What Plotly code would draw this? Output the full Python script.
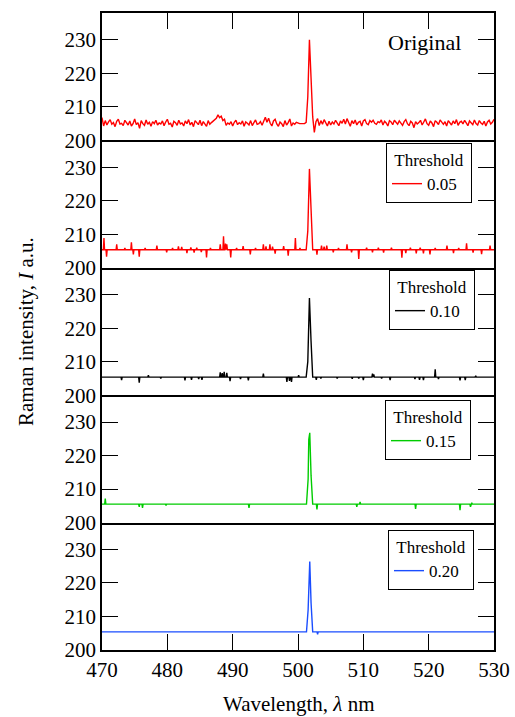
import plotly.graph_objects as go
from plotly.subplots import make_subplots

# ---------------- data ----------------
x_min, x_max = 470.0, 530.0
grid_step = 0.25

# Original spectrum, sampled every 0.25 nm from 470 to 530
original_y = [
    206.8, 204.3, 205.9, 204.6, 205.5, 206.2, 204.8, 205.3, 204.1, 205.7,
    206.3, 204.9, 205.1, 204.4, 206.0, 205.2, 204.6, 205.8, 204.3, 205.0,
    206.4, 204.7, 205.3, 203.6, 205.9, 205.0, 204.5, 206.1, 204.8, 205.4,
    204.2, 205.6, 205.0, 206.0, 204.6, 205.2, 204.9, 205.8, 204.4, 205.5,
    206.3, 204.8, 205.1, 204.0, 205.7, 205.3, 204.5, 206.0, 204.9, 205.2,
    204.3, 205.8, 205.0, 206.2, 204.6, 205.4, 204.1, 205.9, 205.1, 204.7,
    206.0, 204.4, 205.6, 205.0, 204.2, 205.9, 204.8, 205.3, 205.7, 206.1,
    206.6, 207.6, 206.8, 207.2, 205.9, 206.3, 204.5, 205.2, 204.8, 205.6,
    204.3, 205.4, 206.0, 204.7, 205.3, 204.9, 205.8, 204.2, 205.5, 205.1,
    204.6, 205.9, 204.4, 205.3, 206.1, 204.8, 205.0, 205.6, 204.5, 205.7,
    206.9, 205.4, 206.6, 205.1, 204.3, 205.8, 206.3, 204.9, 204.2, 205.5,
    205.0, 204.1, 205.9, 204.6, 205.3, 206.4, 204.3, 205.2, 204.8, 205.4,
    205.1, 205.0, 205.0, 205.0, 205.0, 205.4, 213.0,
    230.0, 220.0, 207.0, 202.4,
    205.6, 206.5, 204.4, 205.9, 204.8, 206.2, 205.0, 204.3, 205.7,
    204.6, 205.5, 204.9, 206.0, 205.2, 204.4, 205.8, 205.1, 206.3, 204.9,
    206.5, 205.3, 204.2, 205.9, 205.0, 206.1, 204.6, 205.4, 205.7, 204.3,
    205.8, 206.2, 205.0, 204.7, 205.9, 205.4, 206.0, 205.1, 204.8, 205.6,
    205.3, 206.1, 204.6, 205.7, 205.2, 204.3, 205.9, 205.5, 204.7, 206.0,
    205.4, 204.8, 205.8, 205.1, 204.5, 205.6, 206.2, 205.0, 204.4, 205.7,
    205.2, 203.8, 205.6, 204.9, 205.3, 206.0, 204.6, 205.5, 206.4, 205.0,
    204.5, 205.8, 205.2, 204.1, 205.9, 205.4, 204.7, 206.1, 205.3, 204.8,
    205.6, 204.3, 205.9, 205.1, 204.6, 205.8, 205.0, 206.2, 204.5, 205.4,
    205.7, 204.9, 206.0, 205.2, 204.4, 205.8, 205.3, 204.7, 206.1, 205.0,
    204.6, 205.9, 205.2, 204.8, 205.7, 204.3, 205.5, 206.0, 204.9, 205.4, 206.3,
]
original_x = [x_min + grid_step * i for i in range(len(original_y))]

# Threshold 0.05
t05_base = 205.4
t05_spike_x = [470.3, 470.7, 472.25, 473.5, 474.5, 474.8, 475.7, 476.6, 478.4, 479.9,
               480.8, 481.7, 482.2, 483.0, 483.6, 484.1, 484.5, 485.2, 486.0, 486.6,
               488.1, 488.6, 488.9, 489.1, 489.7, 490.6, 491.6, 492.7, 493.5, 494.7,
               495.1, 495.7, 496.1, 496.5, 497.8, 498.5, 499.6, 500.3, 502.9, 503.6,
               504.0, 504.4, 505.4, 506.2, 507.5, 508.2, 509.3, 510.5, 511.4, 512.3,
               513.1, 514.3, 515.9, 516.5, 517.2, 518.1, 518.7, 519.2, 520.2, 521.0,
               522.8, 523.8, 524.6, 525.8, 526.8, 528.1, 529.4]
t05_spike_y = [208.9, 203.3, 207.0, 205.9, 207.6, 204.0, 203.3, 205.9, 206.6, 204.6,
               205.9, 206.4, 206.2, 204.4, 206.1, 204.5, 206.0, 204.7, 203.1, 205.9,
               207.0, 209.4, 207.2, 207.0, 203.1, 205.9, 206.5, 204.0, 205.9, 207.0,
               206.4, 207.0, 206.3, 204.2, 206.5, 203.6, 208.9, 205.9, 203.9, 206.6,
               206.3, 206.6, 204.6, 205.9, 207.0, 204.6, 202.6, 206.0, 204.6, 206.0,
               204.5, 206.0, 203.0, 204.4, 206.0, 204.3, 206.0, 204.3, 204.0, 205.9,
               206.6, 204.4, 205.9, 207.3, 204.5, 204.1, 206.6]
t05_peak_x = [501.25, 501.5, 501.75, 502.0, 502.25]
t05_peak_y = [205.4, 211.0, 229.5, 217.0, 205.4]

# Threshold 0.10
t10_base = 205.4
t10_spike_x = [473.0, 475.7, 477.1, 479.0, 482.7, 483.7, 484.8, 485.3, 488.1, 488.4,
               488.7, 489.1, 489.6, 491.2, 492.4, 494.7, 498.3, 498.7, 499.0, 500.1,
               502.8, 503.5, 506.0, 508.3, 509.3, 510.0, 511.4, 511.6, 512.8, 514.1,
               517.9, 518.6, 519.2, 521.0, 521.5, 524.8, 525.6, 527.2]
t10_spike_y = [204.5, 203.7, 206.0, 205.0, 204.4, 204.6, 204.8, 204.6, 206.8, 206.6,
               207.0, 206.7, 204.2, 204.8, 204.4, 206.4, 204.0, 204.3, 204.0, 206.0,
               204.6, 205.0, 205.0, 204.9, 205.0, 204.5, 206.4, 206.2, 205.0, 204.5,
               204.8, 204.6, 204.5, 207.7, 204.8, 204.4, 204.5, 205.8]
t10_peak_x = [501.25, 501.5, 501.75, 502.0, 502.25]
t10_peak_y = [205.4, 210.0, 229.0, 216.0, 205.4]

# Threshold 0.15
t15_base = 205.5
t15_spike_x = [470.5, 475.7, 476.2, 479.8, 492.5, 502.9, 509.0, 509.5, 518.0, 524.8, 526.4, 526.6]
t15_spike_y = [207.2, 204.7, 204.4, 205.1, 204.4, 203.9, 204.7, 206.2, 204.1, 203.7, 204.7, 205.9]
t15_peak_x = [501.3, 501.55, 501.65, 501.8, 502.0, 502.25]
t15_peak_y = [205.5, 213.0, 224.8, 226.8, 214.0, 205.5]

# Threshold 0.20
t20_base = 205.4
t20_spike_x = [503.0]
t20_spike_y = [204.7]
t20_peak_x = [501.3, 501.55, 501.8, 502.0, 502.25]
t20_peak_y = [205.4, 212.0, 226.4, 214.0, 205.4]

thresholds = ["0.05", "0.10", "0.15", "0.20"]
colors = ["#ff0000", "#000000", "#00cc00", "#1a4dff"]

y_ticks = [200, 210, 220, 230]
x_ticks = [470, 480, 490, 500, 510, 520, 530]


def build_series(base, sx, sy, px, py, hw=0.09):
    pts = [(x_min, base), (x_max, base)]
    for x, y in zip(sx, sy):
        pts += [(x - hw, base), (x, y), (x + hw, base)]
    pts += list(zip(px, py))
    pts.sort(key=lambda p: p[0])
    return [p[0] for p in pts], [p[1] for p in pts]


series = [
    build_series(t05_base, t05_spike_x, t05_spike_y, t05_peak_x, t05_peak_y),
    build_series(t10_base, t10_spike_x, t10_spike_y, t10_peak_x, t10_peak_y),
    build_series(t15_base, t15_spike_x, t15_spike_y, t15_peak_x, t15_peak_y),
    build_series(t20_base, t20_spike_x, t20_spike_y, t20_peak_x, t20_peak_y),
]

# ---------------- figure ----------------
FONT = "Liberation Serif"
W, H = 515, 717
ML, MR, MT, MB = 102, 21, 13, 67
PW, PH = W - ML - MR, H - MT - MB

fig = make_subplots(rows=5, cols=1, shared_xaxes=True, vertical_spacing=0)

fig.add_trace(go.Scatter(x=original_x, y=original_y, mode="lines",
                         line=dict(color="#ff0000", width=1.4), showlegend=False),
              row=1, col=1)

legend_names = ["legend", "legend2", "legend3", "legend4"]
for i, ((xs, ys), name, c) in enumerate(zip(series, thresholds, colors)):
    fig.add_trace(go.Scatter(x=xs, y=ys, mode="lines", name=name + "\u00a0\u00a0",
                             line=dict(color=c, width=1.4),
                             legend=legend_names[i], showlegend=True),
                  row=i + 2, col=1)

for r in range(1, 6):
    fig.update_yaxes(range=[200, 238], tickvals=y_ticks, ticks="inside", ticklen=16,
                     tickwidth=1.3, tickcolor="black", showline=True, linewidth=1.5,
                     linecolor="black", mirror="ticks", showgrid=False, zeroline=False,
                     automargin=False,
                     tickfont=dict(family=FONT, size=21, color="black"),
                     row=r, col=1)
    fig.update_xaxes(range=[x_min, x_max], tickvals=x_ticks, showline=True,
                     linewidth=1.8, linecolor="black", mirror=False, showgrid=False,
                     zeroline=False, ticks="", showticklabels=False, automargin=False,
                     row=r, col=1)

fig.update_xaxes(side="top", mirror=True, ticks="inside", ticklen=16, tickwidth=1.3,
                 tickcolor="black", row=1, col=1)
fig.update_xaxes(ticks="inside", ticklen=16, tickwidth=1.3, tickcolor="black",
                 showticklabels=True,
                 tickfont=dict(family=FONT, size=21, color="black"), row=5, col=1)

# legend positions (top-left corner of each box, in pixels)
leg_px = [(386, 143), (389, 270), (385, 400), (388, 530)]
leg_layout = {}
for name, (lx, ly) in zip(legend_names, leg_px):
    leg_layout[name] = dict(
        x=(lx - ML) / PW, y=(H - MB - ly) / PH, xanchor="left", yanchor="top",
        bgcolor="white", bordercolor="black", borderwidth=1,
        font=dict(family=FONT, size=17, color="black"),
        title=dict(text="Threshold", side="top center",
                   font=dict(family=FONT, size=17, color="black")),
        itemwidth=30, tracegroupgap=0,
    )

fig.update_layout(
    width=W, height=H,
    margin=dict(l=ML, r=MR, t=MT, b=MB, pad=0),
    plot_bgcolor="white", paper_bgcolor="white",
    font=dict(family=FONT, color="black"),
    **leg_layout,
    annotations=[
        dict(text="Original", x=(424 - ML) / PW, y=(H - MB - 43) / PH,
             xref="paper", yref="paper", xanchor="center", yanchor="middle",
             showarrow=False, font=dict(family=FONT, size=22, color="black")),
        dict(text="Raman intensity, <i>I</i> a.u.", x=(25.5 - ML) / PW,
             y=0.5, xref="paper", yref="paper", textangle=-90, showarrow=False,
             xanchor="center", yanchor="middle",
             font=dict(family=FONT, size=21, color="black")),
        dict(text="Wavelength, <i>λ</i> nm", x=0.5, y=(H - MB - 704) / PH,
             xref="paper", yref="paper", showarrow=False, xanchor="center",
             yanchor="middle", font=dict(family=FONT, size=21, color="black")),
    ],
)

fig.write_html("out.html", config={"displayModeBar": False},
               post_script="document.body.style.margin='0px';")
